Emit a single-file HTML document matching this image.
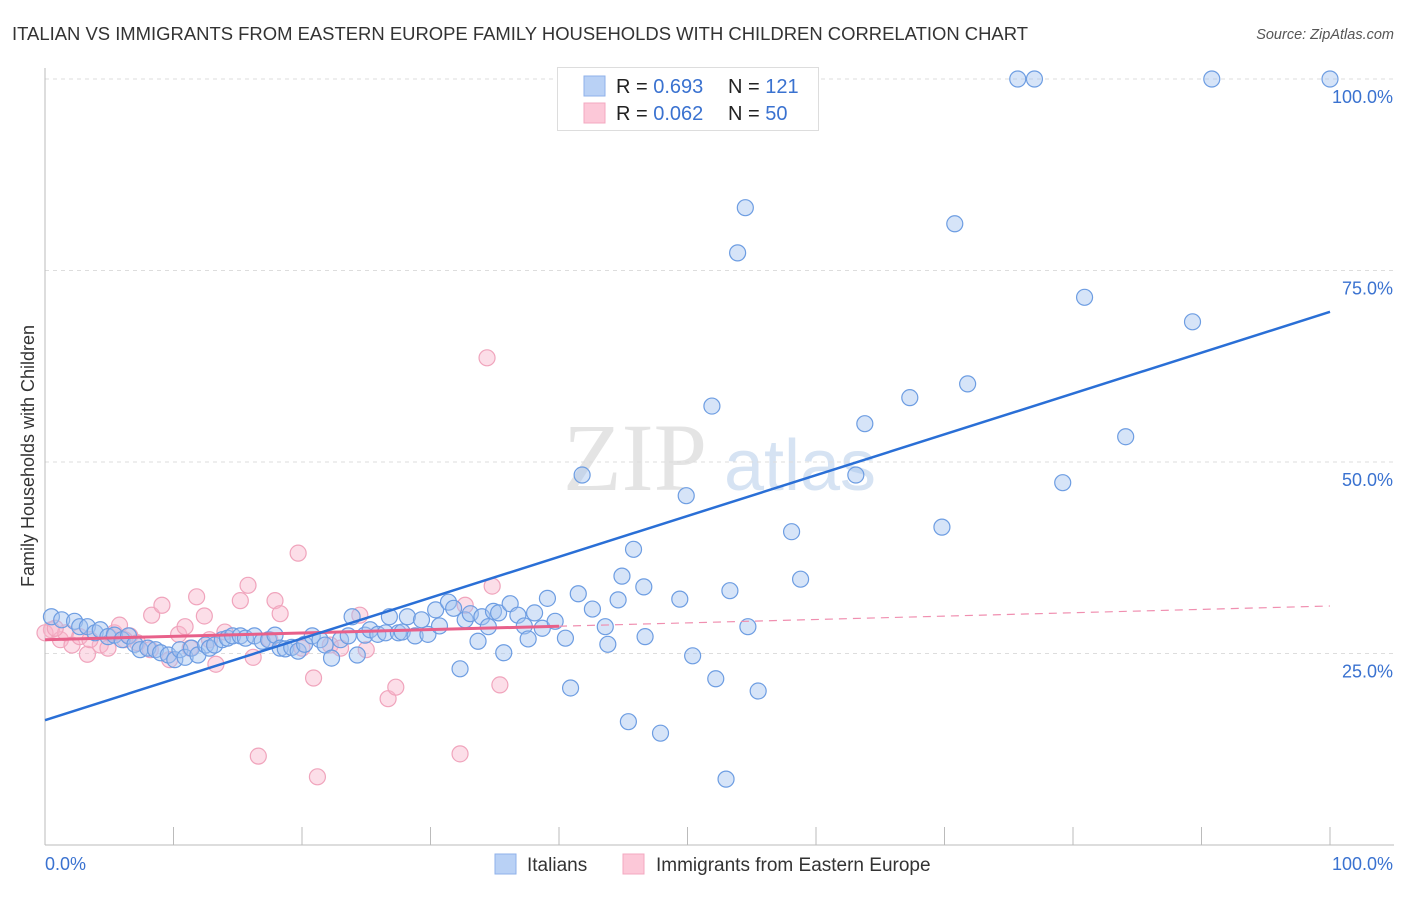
<!DOCTYPE html>
<html><head><meta charset="utf-8">
<style>
body{margin:0;background:#fff;font-family:"Liberation Sans",sans-serif;}
svg text{font-family:"Liberation Sans",sans-serif;}
</style></head>
<body>
<svg id="chart" width="1406" height="892" xmlns="http://www.w3.org/2000/svg">
<text x="12" y="40" font-size="18" fill="#333" textLength="1016" lengthAdjust="spacingAndGlyphs">ITALIAN VS IMMIGRANTS FROM EASTERN EUROPE FAMILY HOUSEHOLDS WITH CHILDREN CORRELATION CHART</text>
<text x="1394" y="39" font-size="14.5" fill="#555" text-anchor="end" font-style="italic">Source: ZipAtlas.com</text>
<g>
<text x="635" y="490" font-size="96" fill="#e4e4e4" text-anchor="middle" font-family="Liberation Serif" style="font-family:'Liberation Serif',serif">ZIP</text>
<text x="800" y="490" font-size="72" fill="#d6e3f3" text-anchor="middle">atlas</text>
</g>
<g id="grid"></g>
<g id="axes"></g>
<g id="pink"></g>
<g id="blue"></g>
<g id="trends"></g>
<g>
<rect x="557.5" y="67.5" width="261" height="63" fill="#fff" stroke="#ddd"/>
<rect x="584" y="76" width="21" height="20" fill="#b9d1f5" stroke="#8fb1ea"/>
<rect x="584" y="103" width="21" height="20" fill="#fcc8d8" stroke="#f3a8c0"/>
<text x="616" y="93" font-size="20" fill="#222">R = <tspan fill="#3a72d0">0.693</tspan></text>
<text x="728" y="93" font-size="20" fill="#222">N = <tspan fill="#3a72d0">121</tspan></text>
<text x="616" y="120" font-size="20" fill="#222">R = <tspan fill="#3a72d0">0.062</tspan></text>
<text x="728" y="120" font-size="20" fill="#222">N = <tspan fill="#3a72d0">50</tspan></text>
</g>
<g>
<rect x="495" y="854" width="21" height="20" fill="#b9d1f5" stroke="#8fb1ea"/>
<text x="527" y="871" font-size="19" fill="#333">Italians</text>
<rect x="623" y="854" width="21" height="20" fill="#fcc8d8" stroke="#f3a8c0"/>
<text x="656" y="871" font-size="19" fill="#333">Immigrants from Eastern Europe</text>
</g>
<text transform="translate(34,456) rotate(-90)" font-size="18" fill="#333" text-anchor="middle">Family Households with Children</text>
</svg>
<script>
const yTicks=[25,50,75,100];
const yTickLabels=["25.0%","50.0%","75.0%","100.0%"];
const xTickVals=[0,10,20,30,40,50,60,70,80,90,100];
const blueX=[0.5,1.3,2.3,2.7,3.3,3.9,4.3,4.9,5.4,6.0,6.5,7.0,7.4,8.0,8.6,9.0,9.6,10.1,10.5,10.9,11.4,11.9,12.5,12.8,13.2,13.8,14.2,14.6,15.2,15.6,16.3,16.9,17.4,17.9,18.3,18.7,19.2,19.7,20.2,20.8,21.4,21.8,22.3,23.0,23.6,23.9,24.3,24.9,25.3,25.9,26.5,26.8,27.5,27.8,28.2,28.8,29.3,29.8,30.4,30.7,31.4,31.8,32.3,32.7,33.1,33.7,34.0,34.5,34.9,35.3,35.7,36.2,36.8,37.3,37.6,38.1,38.7,39.1,39.7,40.5,40.9,41.5,41.8,42.6,43.6,43.8,44.6,44.9,45.4,45.8,46.6,46.7,47.9,49.4,49.9,50.4,51.9,52.2,53.0,53.3,53.9,54.5,54.7,55.5,58.1,58.8,63.1,63.8,67.3,69.8,70.8,71.8,75.7,77.0,79.2,80.9,84.1,89.3,90.8,100];
const blueY=[29.8,29.4,29.2,28.5,28.5,27.7,28.1,27.2,27.4,26.8,27.3,26.2,25.5,25.7,25.5,25.1,24.8,24.2,25.5,24.5,25.7,24.8,26.1,25.7,26.1,26.8,27.0,27.3,27.3,27.0,27.3,26.6,26.8,27.4,25.7,25.6,25.8,25.3,26.2,27.3,26.8,26.1,24.4,26.8,27.3,29.8,24.8,27.4,28.1,27.5,27.7,29.8,27.7,27.8,29.8,27.3,29.4,27.5,30.7,28.6,31.7,30.9,23.0,29.4,30.2,26.6,29.8,28.5,30.5,30.3,25.1,31.5,30.0,28.6,26.9,30.3,28.3,32.2,29.2,27.0,20.5,32.8,48.3,30.8,28.5,26.2,32.0,35.1,16.1,38.6,33.7,27.2,14.6,32.1,45.6,24.7,57.3,21.7,8.6,33.2,77.3,83.2,28.5,20.1,40.9,34.7,48.3,55.0,58.4,41.5,81.1,60.2,100,100,47.3,71.5,53.3,68.3,100,100];
const pinkX=[0.5,1.2,1.6,2.1,2.7,3.3,4.3,4.9,5.4,5.8,6.6,7.2,8.3,9.1,9.7,10.4,10.9,11.3,11.8,12.4,12.8,13.3,14.0,15.2,15.8,16.2,16.6,17.9,18.3,19.7,20.0,20.9,21.2,22.2,23.0,24.5,25.0,26.7,27.3,32.3,32.7,34.4,34.8,35.4,0.0,0.8,3.5,6.2,8.2,17.5];
const pinkY=[28.1,26.8,27.7,26.1,27.2,24.9,26.1,25.7,27.7,28.7,27.3,26.4,30.0,31.3,24.2,27.5,28.5,25.7,32.4,29.9,26.8,23.6,27.8,31.9,33.9,24.5,11.6,31.9,30.2,38.1,25.7,21.8,8.9,26.1,25.7,30.0,25.5,19.1,20.6,11.9,31.3,63.6,33.8,20.9,27.7,28.3,26.8,26.8,25.5,26.8];
const blueTrend=[16.3,69.6];
const pinkTrend=[26.8,31.2];
const pinkSolidEnd=40;

const X0=45,X1=1330,Y0=845,Y100=79;
const sx=v=>X0+(X1-X0)*v/100;
const sy=v=>Y0-(Y0-Y100)*v/100;
const NS="http://www.w3.org/2000/svg";
function mk(tag,attrs,parent){const e=document.createElementNS(NS,tag);for(const k in attrs)e.setAttribute(k,attrs[k]);parent.appendChild(e);return e;}
const grid=document.getElementById('grid'),axes=document.getElementById('axes');
yTicks.forEach((t,i)=>{
  const l=mk('line',{x1:X0,x2:1394,y1:sy(t),y2:sy(t),stroke:'#ddd','stroke-dasharray':'4,4'},grid);
  
  
  const tx=mk('text',{x:1393,y:sy(t)+24,'font-size':18,fill:'#3a72d0','text-anchor':'end'},axes);
  tx.textContent=yTickLabels[i];
  
  
});
const al=mk('line',{x1:X0,x2:X0,y1:68,y2:Y0,stroke:'#bbb'},axes);


const bl=mk('line',{x1:X0,x2:1394,y1:Y0,y2:Y0,stroke:'#bbb'},axes);


xTickVals.forEach(t=>{
  const l=mk('line',{x1:sx(t),x2:sx(t),y1:827,y2:Y0,stroke:'#bbb'},axes);
  
  
});
const xl0=mk('text',{x:45,y:870,'font-size':18,fill:'#3a72d0'},axes);xl0.textContent='0.0%';


const xl1=mk('text',{x:1393,y:870,'font-size':18,fill:'#3a72d0','text-anchor':'end'},axes);xl1.textContent='100.0%';


const pg=document.getElementById('pink');
pinkX.forEach((x,i)=>{
  const c=mk('circle',{cx:sx(x),cy:sy(pinkY[i]),r:8,fill:'rgba(248,182,204,0.45)',stroke:'#f0a4bc','stroke-width':1.2},pg);
  
  
});
const bg=document.getElementById('blue');
blueX.forEach((x,i)=>{
  const c=mk('circle',{cx:sx(x),cy:sy(blueY[i]),r:8,fill:'rgba(164,196,240,0.45)',stroke:'#6d9de2','stroke-width':1.2},bg);
  
  
});
const tg=document.getElementById('trends');
const pAt=v=>pinkTrend[0]+(pinkTrend[1]-pinkTrend[0])*v/100;
const pd=mk('line',{x1:sx(pinkSolidEnd),y1:sy(pAt(pinkSolidEnd)),x2:sx(100),y2:sy(pinkTrend[1]),stroke:'#f08fb0','stroke-width':1.2,'stroke-dasharray':'8,6'},tg);


const ps=mk('line',{x1:sx(0),y1:sy(pinkTrend[0]),x2:sx(pinkSolidEnd),y2:sy(pAt(pinkSolidEnd)),stroke:'#e8608a','stroke-width':3},tg);


const bt=mk('line',{x1:sx(0),y1:sy(blueTrend[0]),x2:sx(100),y2:sy(blueTrend[1]),stroke:'#2a6fd6','stroke-width':2.5},tg);


</script>
</body></html>
